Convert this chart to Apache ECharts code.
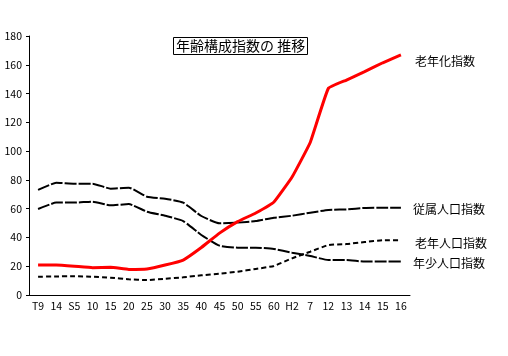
<!DOCTYPE html>
<html><head><meta charset="utf-8">
<script src="https://cdn.jsdelivr.net/npm/echarts@6/dist/echarts.min.js"></script>
<style>html,body{margin:0;padding:0;background:#fff}#c{width:508px;height:356px}</style>
</head><body><div id="c"></div>
<script>
const categories = ['T9','14','S5','10','15','20','25','30','35','40','45','50','55','60','H2','7','12','13','14','15','16'];
const agingIndex = [20.8,20.8,20.0,19.0,19.3,17.8,18.1,20.8,24.3,33.0,43.0,51.0,57.0,64.6,82.0,106.0,143.6,149.4,155.2,161.4,166.8];
const dependencyIndex = [73.0,78.0,77.4,77.4,73.9,74.6,68.3,66.9,64.2,54.9,49.8,50.3,51.4,53.7,55.1,57.2,59.1,59.5,60.5,60.7,60.7];
const youngIndex = [59.8,64.2,64.2,64.9,62.3,63.2,57.9,55.1,51.4,41.7,34.3,32.9,32.9,32.0,29.4,27.1,24.3,24.3,23.2,23.2,23.2];
const oldIndex = [12.7,12.9,13.1,12.7,12.0,10.9,10.4,11.3,12.3,13.7,14.8,16.2,18.1,20.2,25.5,30.1,34.7,35.4,36.8,38.0,38.0];
const yTicks = {min:0, max:180, interval:20};
const seriesNames = ['老年化指数','従属人口指数','老年人口指数','年少人口指数'];
const titleText = '年齢構成指数の 推移';

const font = '"Noto Sans CJK JP", sans-serif';
const chart = echarts.init(document.getElementById('c'), null, {renderer:'canvas'});
chart.setOption({
  backgroundColor:'#fff',
  animation:false,
  title:{text:titleText, left:173, top:37, padding:[2,3,2,3], borderColor:'#000', borderWidth:1,
    textStyle:{fontFamily:font, fontSize:14, fontWeight:'normal', color:'#000'}},
  grid:{left:29, right:98, top:36, bottom:61},
  xAxis:{type:'category', data:categories, boundaryGap:true,
    axisLine:{lineStyle:{color:'#000', width:1}},
    axisTick:{alignWithLabel:true, length:4, lineStyle:{color:'#000'}},
    axisLabel:{interval:0, color:'#000', fontFamily:font, fontSize:10.5, margin:6}},
  yAxis:{type:'value', min:yTicks.min, max:yTicks.max, interval:yTicks.interval,
    splitLine:{show:false},
    axisLine:{show:true, lineStyle:{color:'#000', width:1}},
    axisTick:{show:true, length:3, lineStyle:{color:'#000'}},
    axisLabel:{color:'#000', fontFamily:font, fontSize:10.5, margin:7}},
  series:[
    {name:seriesNames[0], type:'line', data:agingIndex, smooth:0.1, symbol:'none', z:5,
      lineStyle:{color:'#ff0000', width:3},
      endLabel:{show:true, formatter:seriesNames[0], offset:[6,6], color:'#000', fontFamily:font, fontSize:12}},
    {name:seriesNames[1], type:'line', data:dependencyIndex, smooth:0.15, symbol:'none',
      lineStyle:{color:'#000', width:2, type:[12,2]},
      endLabel:{show:true, formatter:seriesNames[1], offset:[4,2], color:'#000', fontFamily:font, fontSize:12}},
    {name:seriesNames[2], type:'line', data:oldIndex, smooth:0.15, symbol:'none',
      lineStyle:{color:'#000', width:2, type:[5,3]},
      endLabel:{show:true, formatter:seriesNames[2], offset:[6,3], color:'#000', fontFamily:font, fontSize:12}},
    {name:seriesNames[3], type:'line', data:youngIndex, smooth:0.15, symbol:'none',
      lineStyle:{color:'#000', width:2, type:[12,2]},
      endLabel:{show:true, formatter:seriesNames[3], offset:[4,2], color:'#000', fontFamily:font, fontSize:12}}
  ]
});
</script></body></html>
